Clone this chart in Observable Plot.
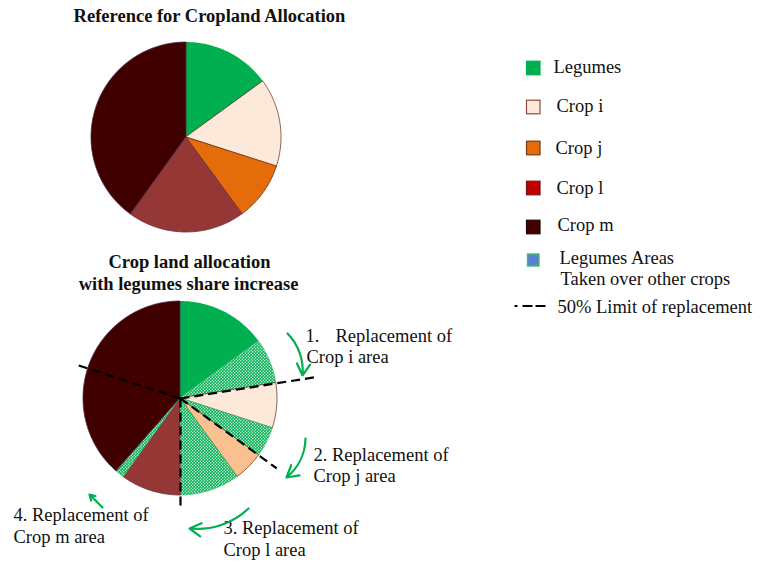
<!DOCTYPE html>
<html><head><meta charset="utf-8">
<script src="https://cdn.jsdelivr.net/npm/d3@7"></script>
<script src="https://cdn.jsdelivr.net/npm/@observablehq/plot@0.6"></script>
<style>
body{margin:0;background:#fff;}
#chart svg{display:block;}
</style>
</head><body><div id="chart"></div>
<script>
// ---------- data ----------
const categories = ["Legumes", "Crop i", "Crop j", "Crop l", "Crop m"];
const referenceShare = [15, 15, 10, 20, 40];        // % of cropland (reference pie)
const takenShare = [0, 7.5, 5, 10, 1.5];            // % taken over by legumes from each crop
const limitShare = 0.5;                             // 50% limit of replacement
const titleTop = "Reference for Cropland Allocation";
const titleBottom = ["Crop land allocation", "with legumes share increase"];
const legendLabels = ["Legumes", "Crop i", "Crop j", "Crop l", "Crop m"];
const takenLabel = ["Legumes Areas", "Taken over other crops"];
const limitLabel = "50% Limit of replacement";
const annotationNumbers = ["1.", "2.", "3.", "4."];
const annotationLines = [["Replacement of", "Crop i area"], ["Replacement of", "Crop j area"], ["Replacement of", "Crop l area"], ["Replacement of", "Crop m area"]];

// ---------- styles / layout ----------
const FONT = "'Liberation Serif','Times New Roman',serif";
const topColor = {"Legumes": "#00b050", "Crop i": "#fde9d9", "Crop j": "#e46c0a", "Crop l": "#953735", "Crop m": "#400000"};
const bottomColor = {"Legumes": "#00b050", "Crop i": "#fde9d9", "Crop j": "#fac090", "Crop l": "#953735", "Crop m": "#400000"};
const legendColor = {"Legumes": "#00b050", "Crop i": "#fde9d9", "Crop j": "#e46c0a", "Crop l": "#c00000", "Crop m": "#400000"};
const legendStroke = {"Legumes": "#00b050", "Crop i": "#8b4a3c", "Crop j": "#7a3a10", "Crop l": "#7a1010", "Crop m": "#2a0000"};
const sliceStroke = {"Legumes": "none", "Crop i": "#6b3a2a", "Crop j": "#6b3410", "Crop l": "#6a3048", "Crop m": "#4a2a4a"};
const topPie = {cx: 186, cy: 137, r: 95};
const botPie = {cx: 180, cy: 398, r: 97};
const limitLen = [0, 140, 119, 112, 109];
const legendY = [68, 107, 148, 188, 227];
const legendTextX = [553, 556, 555, 556, 557];
const legendTextY = [72, 111, 153, 193, 230];

// ---------- geometry from data ----------
function wedge(p, a0, a1) {
  const n = Math.max(2, Math.ceil((a1 - a0) / 1));
  const pts = [];
  for (let k = 0; k <= n; k++) {
    const a = (a0 + (a1 - a0) * k / n) * Math.PI / 180;
    pts.push({x1: p.cx, y1: p.cy, x2: p.cx + p.r * Math.sin(a), y2: p.cy - p.r * Math.cos(a)});
  }
  return pts;
}
const total = d3.sum(referenceShare);
const deg = v => v / total * 360;

const marks = [];
// top pie
let acc = 0;
categories.forEach((c, i) => {
  const a0 = acc, a1 = acc + deg(referenceShare[i]);
  acc = a1;
  marks.push(Plot.area(wedge(topPie, a0, a1), {x1: "x1", y1: "y1", x2: "x2", y2: "y2", fill: topColor[c], stroke: sliceStroke[c], strokeWidth: 0.8, curve: "linear"}));
});
// bottom pie
acc = 0;
const limits = [];
categories.forEach((c, i) => {
  const start = acc;
  const aT = acc + deg(takenShare[i]);
  const a1 = acc + deg(referenceShare[i]);
  if (takenShare[i] > 0) {
    marks.push(Plot.area(wedge(botPie, start, aT), {x1: "x1", y1: "y1", x2: "x2", y2: "y2", fill: "url(#dots)", stroke: "#2fb860", strokeWidth: 0.6, curve: "linear"}));
    limits.push({a: start + deg(referenceShare[i]) * limitShare, len: limitLen[i]});
  }
  marks.push(Plot.area(wedge(botPie, aT, a1), {x1: "x1", y1: "y1", x2: "x2", y2: "y2", fill: bottomColor[c], stroke: sliceStroke[c], strokeWidth: 0.8, curve: "linear"}));
  acc = a1;
});
// 50% limit dashed lines
marks.push(Plot.link(limits, {
  x1: () => botPie.cx, y1: () => botPie.cy,
  x2: d => botPie.cx + d.len * Math.sin(d.a * Math.PI / 180),
  y2: d => botPie.cy - d.len * Math.cos(d.a * Math.PI / 180),
  stroke: "#000", strokeWidth: 2.2, strokeDasharray: "9,5"
}));

// legend swatches
marks.push(Plot.rect(legendLabels, {
  x1: () => 526.5, x2: () => 540, y1: (d, i) => legendY[i] - 6.8, y2: (d, i) => legendY[i] + 6.8,
  fill: d => legendColor[d], stroke: d => legendStroke[d], strokeWidth: 1.2
}));
marks.push(Plot.rect([takenLabel[0]], {x1: () => 527.5, x2: () => 539, y1: () => 254, y2: () => 266, fill: "#5b7fd0", stroke: "#3cc070", strokeWidth: 1.4}));
marks.push(Plot.link([limitLabel], {x1: () => 514, x2: () => 546, y1: () => 305.5, y2: () => 305.5, stroke: "#000", strokeWidth: 2, strokeDasharray: "3,5,10,3,10"}));

// texts
const texts = [
  {x: 209, y: 21, t: titleTop, w: "bold", a: "middle"},
  {x: 189, y: 267, t: titleBottom[0], w: "bold", a: "middle"},
  {x: 188, y: 289, t: titleBottom[1], w: "bold", a: "middle"},
  ...legendLabels.map((t, i) => ({x: legendTextX[i], y: legendTextY[i], t, w: "normal", a: "start"})),
  {x: 559, y: 263, t: takenLabel[0], w: "normal", a: "start"},
  {x: 560, y: 284, t: takenLabel[1], w: "normal", a: "start"},
  {x: 557, y: 312, t: limitLabel, w: "normal", a: "start"},
  {x: 305, y: 341, t: annotationNumbers[0], w: "normal", a: "start"},
  {x: 335, y: 341, t: annotationLines[0][0], w: "normal", a: "start"},
  {x: 306, y: 362, t: annotationLines[0][1], w: "normal", a: "start"},
  {x: 313, y: 460, t: annotationNumbers[1] + " " + annotationLines[1][0], w: "normal", a: "start"},
  {x: 313, y: 481, t: annotationLines[1][1], w: "normal", a: "start"},
  {x: 223, y: 533, t: annotationNumbers[2] + " " + annotationLines[2][0], w: "normal", a: "start"},
  {x: 223, y: 555, t: annotationLines[2][1], w: "normal", a: "start"},
  {x: 13, y: 520, t: annotationNumbers[3] + " " + annotationLines[3][0], w: "normal", a: "start"},
  {x: 13, y: 542, t: annotationLines[3][1], w: "normal", a: "start"}
];
for (const w of ["bold", "normal"]) for (const a of ["middle", "start"]) {
  const sub = texts.filter(d => d.w === w && d.a === a);
  if (sub.length) marks.push(Plot.text(sub, {x: "x", y: "y", text: "t", textAnchor: a, lineAnchor: "bottom", fontWeight: w, fontSize: 18.5, fill: "#111", fontFamily: FONT}));
}

// arrows
const arrowsCurved = [
  {x1: 287, y1: 333, x2: 302, y2: 375},
  {x1: 305, y1: 438, x2: 286, y2: 477},
  {x1: 248, y1: 508, x2: 189, y2: 528}
];
const arrowsStraight = [{x1: 102, y1: 507, x2: 89, y2: 494}];
marks.push(Plot.arrow(arrowsCurved, {x1: "x1", y1: "y1", x2: "x2", y2: "y2", bend: 25, stroke: "#00b050", strokeWidth: 2.2, headLength: 9}));
marks.push(Plot.arrow(arrowsStraight, {x1: "x1", y1: "y1", x2: "x2", y2: "y2", stroke: "#00b050", strokeWidth: 2.2, headLength: 9}));

const svg = Plot.plot({
  width: 760, height: 562,
  margin: 0,
  x: {domain: [0, 760], range: [0, 760], axis: null},
  y: {domain: [0, 562], range: [0, 562], axis: null},
  style: {fontFamily: FONT, background: "#fff"},
  marks
});
// dotted pattern for legume areas taken over
const defs = d3.select(svg).insert("defs", ":first-child");
const pat = defs.append("pattern").attr("id", "dots").attr("patternUnits", "userSpaceOnUse").attr("width", 3).attr("height", 3);
pat.append("rect").attr("width", 3).attr("height", 3).attr("fill", "#00b050");
pat.append("circle").attr("cx", 0.75).attr("cy", 0.75).attr("r", 0.65).attr("fill", "#fff");
pat.append("circle").attr("cx", 2.25).attr("cy", 2.25).attr("r", 0.65).attr("fill", "#fff");
document.getElementById("chart").appendChild(svg);
</script>
</body></html>
